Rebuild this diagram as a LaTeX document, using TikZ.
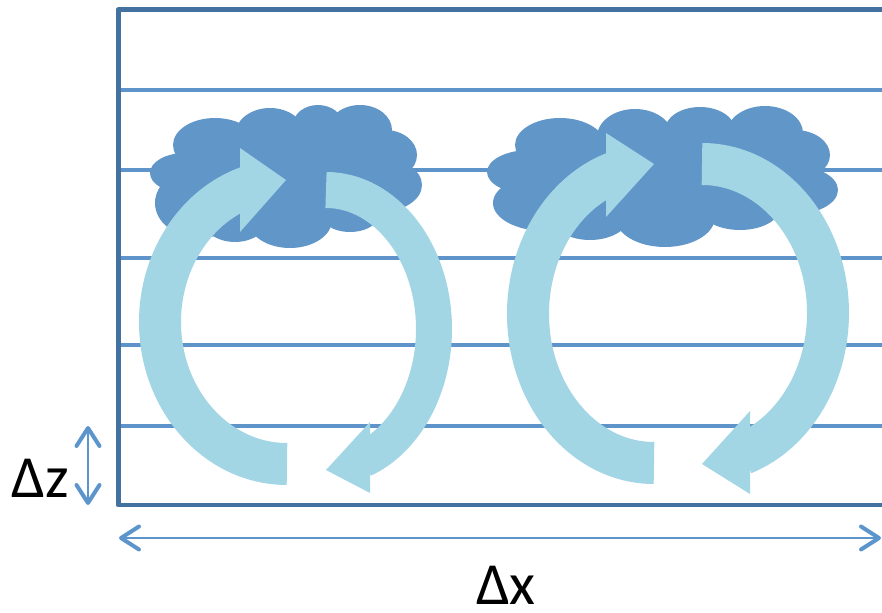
\documentclass[tikz,border=0pt]{standalone}
\usepackage{fontspec}
\setmainfont{Carlito}
\usetikzlibrary{arrows.meta}

\definecolor{framecol}{RGB}{68,114,160}
\definecolor{layercol}{RGB}{94,148,202}
\definecolor{cloudcol}{RGB}{97,150,201}
\definecolor{flowcol}{RGB}{163,214,228}
\definecolor{dimcol}{RGB}{92,148,204}

\tikzset{
  layer/.style={draw=layercol, line width=0.09cm},
  box/.style={draw=framecol, line width=0.1cm, line join=round},
  puff/.style={fill=cloudcol},
  flow/.style={draw=flowcol, line width=0.84cm},
  flowhead/.style={fill=flowcol},
  dim/.style={draw=dimcol, line width=0.05cm,
    {Straight Barb[length=0.36cm, width=0.46cm, line width=0.08cm 0, round]}-{Straight Barb[length=0.36cm, width=0.46cm, line width=0.08cm 0, round]}},
  lbl/.style={font=\fontsize{34}{40}\selectfont, anchor=base, inner sep=0pt}
}

\begin{document}
\begin{tikzpicture}[x=0.02cm, y=0.02cm]
\useasboundingbox (0,0) rectangle (882,612);

% model levels
\foreach \lev in {522,442,354,267,186}
  \draw[layer] (118,\lev) -- (882,\lev);
\draw[box] (882,602) -- (118,602) -- (118,107) -- (882,107);

% clouds
\foreach \cx/\cy/\rx/\ry in {185/439/35/20, 200/409/45/35, 215/467/42/27, 270/477/35/27,
    318/487/25/20, 360/482/32/25, 385/457/32/25, 380/427/42/27, 350/402/32/22,
    290/392/42/28, 235/397/35/27, 285/432/100/45}
  \fill[puff] (\cx,\cy) ellipse [x radius=\rx, y radius=\ry];
\foreach \cx/\cy/\rx/\ry in {530/440/43/22, 545/409/52/28, 560/467/45/27, 635/475/38/28,
    700/482/35/23, 765/479/38/27, 795/457/35/25, 790/422/48/25, 740/404/40/22,
    665/395/50/30, 590/397/40/25, 660/432/130/45}
  \fill[puff] (\cx,\cy) ellipse [x radius=\rx, y radius=\ry];

% convective cells
\draw[flow] (287,148) arc [start angle=270, end angle=108, x radius=127, y radius=142];
\fill[flowhead] (240,464) -- (286,432) -- (240,380) -- cycle;
\draw[flow, line width=0.72cm] (326,422) arc [start angle=90, end angle=-70, x radius=108, y radius=139];
\fill[flowhead] (370,190) -- (326,142) -- (370,119) -- cycle;

\draw[flow] (654,149) arc [start angle=270, end angle=108, x radius=126, y radius=149];
\fill[flowhead] (606,479) -- (654,448) -- (606,395) -- cycle;
\draw[flow] (702,448) arc [start angle=90, end angle=-71, x radius=126, y radius=149];
\fill[flowhead] (750,201) -- (702,148) -- (750,118) -- cycle;

% grid spacing
\coordinate (dzlo) at (88,107);
\coordinate (dzhi) at (88,186);
\coordinate (dxl) at (119,74);
\coordinate (dxr) at (881,74);
\draw[dim] (dzlo) -- (dzhi);
\draw[dim] (dxl) -- (dxr);
\node[lbl] (dzlabel) at (40,114) {Δz};
\node[lbl] (dxlabel) at (506,8) {Δx};
\end{tikzpicture}
\end{document}
